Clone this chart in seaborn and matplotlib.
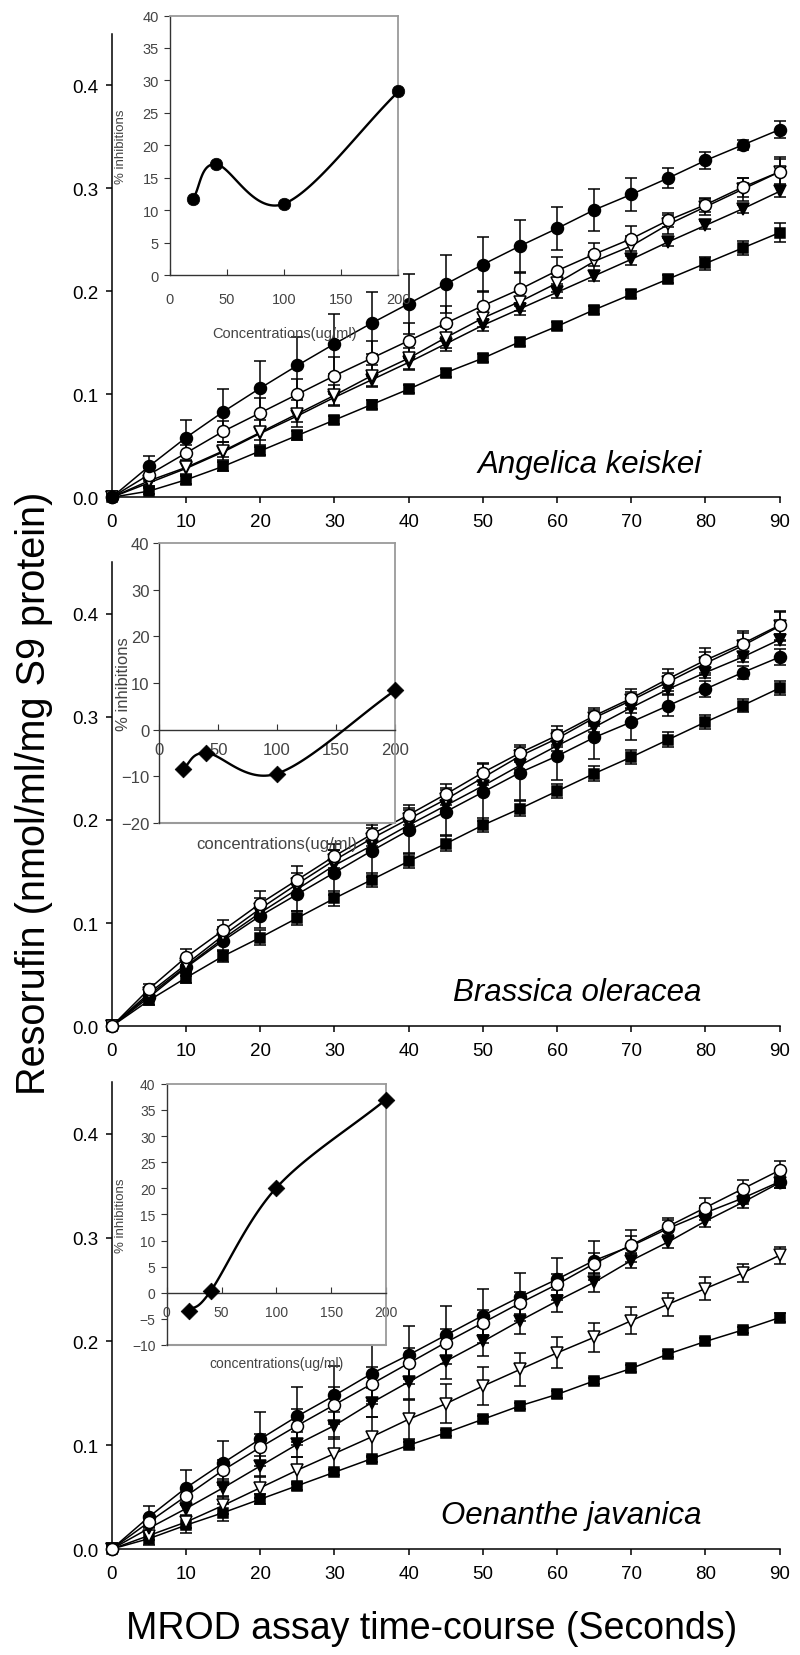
import numpy as np
import matplotlib
matplotlib.use("Agg")
import matplotlib.pyplot as plt
from matplotlib.ticker import FormatStrFormatter
import seaborn as sns

sns.set_theme(style="ticks")
plt.rcParams['font.family'] = ['Liberation Sans', 'DejaVu Sans']

# ---------------- data ----------------
time_s = [0, 5, 10, 15, 20, 25, 30, 35, 40, 45, 50, 55, 60, 65, 70, 75, 80, 85, 90]
main_xticks = [0, 10, 20, 30, 40, 50, 60, 70, 80, 90]
main_yticks = [0.0, 0.1, 0.2, 0.3, 0.4]
species = ["Angelica keiskei", "Brassica oleracea", "Oenanthe javanica"]

# Panel 1: Angelica keiskei
ak_fcirc = [0, .030, .058, .083, .106, .128, .149, .169, .188, .207, .226, .244, .261, .279, .294, .310, .327, .342, .357]
ak_fcirc_err = [0, .010, .017, .022, .026, .028, .029, .030, .029, .028, .027, .025, .021, .020, .016, .010, .008, .005, .008]
ak_ocirc = [0, .022, .043, .064, .082, .100, .118, .135, .152, .169, .186, .202, .220, .236, .251, .269, .284, .301, .316]
ak_ocirc_err = [0, .006, .008, .010, .014, .015, .018, .017, .017, .017, .014, .016, .013, .011, .012, .007, .007, .009, .014]
ak_otri = [0, .016, .029, .045, .063, .081, .099, .118, .135, .155, .174, .190, .208, .229, .244, .265, .282, .299, .316]
ak_otri_err = [0, .005, .007, .009, .012, .013, .010, .010, .010, .010, .009, .009, .009, .009, .010, .009, .008, .011, .012]
ak_ftri = [0, .014, .028, .044, .062, .079, .097, .114, .131, .149, .167, .183, .199, .215, .231, .248, .264, .280, .297]
ak_ftri_err = [0, .004, .005, .005, .006, .006, .007, .007, .007, .007, .006, .006, .006, .005, .005, .004, .004, .004, .005]
ak_sq = [0, .006, .017, .030, .045, .060, .075, .090, .105, .121, .135, .151, .166, .182, .197, .212, .227, .242, .257]
ak_sq_err = [0, .003, .004, .004, .004, .004, .004, .004, .004, .004, .004, .004, .004, .004, .004, .004, .006, .007, .009]

# Panel 2: Brassica oleracea
bo_fcirc = [0, .028, .057, .083, .107, .128, .149, .170, .190, .208, .227, .246, .262, .280, .295, .311, .327, .343, .358]
bo_fcirc_err = [0, .004, .008, .010, .012, .016, .022, .025, .022, .023, .028, .027, .023, .021, .017, .010, .008, .006, .008]
bo_ocirc = [0, .036, .067, .093, .119, .142, .165, .186, .205, .225, .246, .265, .282, .301, .318, .337, .355, .371, .389]
bo_ocirc_err = [0, .005, .008, .010, .012, .013, .012, .011, .010, .010, .008, .006, .009, .008, .009, .009, .012, .012, .014]
bo_otri = [0, .032, .060, .088, .114, .138, .161, .182, .201, .220, .241, .262, .279, .299, .316, .334, .352, .369, .388]
bo_otri_err = [0, .004, .006, .008, .010, .011, .010, .010, .009, .009, .007, .006, .008, .008, .008, .009, .011, .012, .014]
bo_ftri = [0, .030, .058, .085, .110, .133, .156, .175, .195, .214, .233, .253, .272, .290, .309, .327, .343, .358, .375]
bo_ftri_err = [0, .004, .005, .005, .005, .005, .005, .005, .005, .005, .005, .005, .005, .005, .005, .005, .005, .005, .005]
bo_sq = [0, .025, .047, .068, .086, .105, .124, .142, .160, .177, .195, .211, .228, .245, .261, .278, .295, .311, .328]
bo_sq_err = [0, .004, .005, .006, .007, .007, .007, .007, .007, .007, .007, .007, .007, .007, .007, .007, .007, .0065, .007]

# Panel 3: Oenanthe javanica
oj_fcirc = [0, .031, .059, .083, .106, .128, .148, .169, .187, .206, .225, .243, .260, .278, .292, .309, .324, .338, .354]
oj_fcirc_err = [0, .010, .017, .021, .026, .028, .028, .029, .028, .028, .026, .023, .020, .019, .015, .008, .007, .006, .006]
oj_ocirc = [0, .026, .051, .076, .098, .119, .139, .159, .179, .199, .218, .237, .255, .275, .293, .311, .329, .347, .365]
oj_ocirc_err = [0, .006, .008, .010, .013, .016, .017, .016, .015, .013, .012, .011, .010, .010, .009, .008, .009, .009, .009]
oj_otri = [0, .013, .026, .042, .059, .076, .092, .108, .125, .140, .157, .173, .189, .204, .220, .236, .251, .266, .283]
oj_otri_err = [0, .004, .006, .008, .010, .013, .016, .019, .019, .019, .018, .016, .015, .014, .013, .011, .011, .009, .008]
oj_ftri = [0, .020, .039, .059, .080, .101, .119, .141, .161, .181, .200, .220, .239, .257, .278, .296, .316, .334, .353]
oj_ftri_err = [0, .005, .006, .008, .010, .012, .013, .014, .016, .017, .014, .013, .011, .009, .007, .006, .006, .005, .005]
oj_sq = [0, .010, .023, .035, .048, .061, .074, .087, .100, .112, .125, .138, .149, .162, .174, .188, .200, .211, .223]
oj_sq_err = [0, .006, .008, .008, .005, .004, .003, .003, .003, .003, .003, .003, .003, .003, .003, .003, .003, .003, .004]

# Insets: % inhibition vs concentration
conc = [20, 40, 100, 200]
conc_ticks = [0, 50, 100, 150, 200]
ak_inhib = [11.7, 17.1, 11.0, 28.3]
bo_inhib = [-8.4, -5.0, -9.4, 8.4]
oj_inhib = [-3.5, 0.3, 20.1, 37.0]
ak_inhib_ticks = [0, 5, 10, 15, 20, 25, 30, 35, 40]
bo_inhib_ticks = [-20, -10, 0, 10, 20, 30, 40]
oj_inhib_ticks = [-10, -5, 0, 5, 10, 15, 20, 25, 30, 35, 40]

# ---------------- helpers ----------------
STYLE = {
    "sq":    dict(marker="s", mfc="black", ms=7.0),
    "otri":  dict(marker="v", mfc="white", ms=9.2),
    "ftri":  dict(marker="v", mfc="black", ms=9.2),
    "fcirc": dict(marker="o", mfc="black", ms=8.6),
    "ocirc": dict(marker="o", mfc="white", ms=8.6),
}


def smooth_curve(xs, ys, n=40):
    """Catmull-Rom (Excel-like smoothed line) through the given points."""
    P = np.column_stack([xs, ys]).astype(float)
    ext = np.vstack([2 * P[0] - P[1], P, 2 * P[-1] - P[-2]])
    t = np.linspace(0, 1, n)[:, None]
    h00 = 2 * t**3 - 3 * t**2 + 1
    h10 = t**3 - 2 * t**2 + t
    h01 = -2 * t**3 + 3 * t**2
    h11 = t**3 - t**2
    segs = []
    for i in range(1, len(ext) - 2):
        p0, p1, p2, p3 = ext[i - 1], ext[i], ext[i + 1], ext[i + 2]
        m1 = (p2 - p0) / 2
        m2 = (p3 - p1) / 2
        seg = h00 * p1 + h10 * m1 + h01 * p2 + h11 * m2
        segs.append(seg if i == 1 else seg[1:])
    out = np.vstack(segs)
    return out[:, 0], out[:, 1]


def draw_main(ax, series, name):
    for key, vals, err in series:
        ax.errorbar(time_s, vals, yerr=err, fmt="none", ecolor="black",
                    elinewidth=1.1, capsize=4.0, capthick=1.1, clip_on=False, zorder=2)
    for key, vals, err in series:
        st = STYLE[key]
        sns.lineplot(x=time_s, y=vals, ax=ax, color="black", linewidth=1.1,
                     marker=st["marker"], markersize=st["ms"], markerfacecolor=st["mfc"],
                     markeredgecolor="black", markeredgewidth=1.1, clip_on=False,
                     zorder=3, sort=False, estimator=None)
    ax.set_xlim(0, 90)
    ax.set_ylim(0, 0.45)
    ax.set_xticks(main_xticks)
    ax.set_yticks(main_yticks)
    ax.yaxis.set_major_formatter(FormatStrFormatter("%.1f"))
    sns.despine(ax=ax)
    for s in ("left", "bottom"):
        ax.spines[s].set_linewidth(1.1)
        ax.spines[s].set_color("black")
    ax.tick_params(axis="both", direction="out", length=4.5, width=1.1,
                   labelsize=13.5, colors="black")
    ax.tick_params(axis="x", pad=7)
    ax.tick_params(axis="y", pad=5)
    ax.set_xlabel("")
    ax.set_ylabel("")
    ax.text(79.5, 0.025, name, fontsize=22.5, style="italic", ha="right",
            va="baseline", color="black")


def draw_inset(fig, rect, yvals, yticks, ylim, marker, ms, xlabel, ylab_fs, xlab_fs,
               tick_fs, ylab_x, xlab_y, xpad, ypad, zero_axis):
    ia = fig.add_axes(rect)
    ia.set_facecolor("white")
    cx, cy = smooth_curve(conc, yvals)
    ia.plot(cx, cy, color="black", lw=1.7, zorder=3, clip_on=False)
    sns.scatterplot(x=conc, y=yvals, ax=ia, marker=marker, s=ms**2, color="black",
                    edgecolor="black", linewidth=0.5, zorder=4, clip_on=False)
    ia.set_xlim(0, 200)
    ia.set_ylim(*ylim)
    ia.set_xticks(conc_ticks)
    ia.set_yticks(yticks)
    frame = "#9a9a9a"
    for s in ("top", "right"):
        ia.spines[s].set_visible(True)
        ia.spines[s].set_color(frame)
        ia.spines[s].set_linewidth(1.3)
    ia.spines["left"].set_color("#333333")
    ia.spines["left"].set_linewidth(1.0)
    ia.spines["bottom"].set_color("#333333")
    ia.spines["bottom"].set_linewidth(1.0)
    if zero_axis:
        ia.spines["bottom"].set_position(("data", 0))
        ia.axhline(ylim[0], color=frame, lw=1.5, clip_on=False, zorder=1)
    ia.tick_params(axis="x", direction="in", length=4, width=0.8, colors="#333333",
                   labelcolor="#444444", labelsize=tick_fs, pad=xpad)
    ia.tick_params(axis="y", direction="out", length=4, width=0.8, colors="#333333",
                   labelcolor="#444444", labelsize=tick_fs, pad=ypad)
    ia.set_ylabel("% inhibitions", fontsize=ylab_fs, color="#444444")
    ia.set_xlabel(xlabel, fontsize=xlab_fs, color="#444444")
    ia.yaxis.set_label_coords(ylab_x, 0.5)
    ia.xaxis.set_label_coords(0.5, xlab_y)
    return ia


# ---------------- figure ----------------
fig = plt.figure(figsize=(8.0, 16.56), dpi=100)

left, width = 0.1398, 0.8348
ax1 = fig.add_axes([left, 0.6991, width, 0.2799])
ax2 = fig.add_axes([left, 0.3797, width, 0.2802])
ax3 = fig.add_axes([left, 0.0640, width, 0.2820])

draw_main(ax1, [("sq", ak_sq, ak_sq_err), ("ftri", ak_ftri, ak_ftri_err),
                ("otri", ak_otri, ak_otri_err), ("ocirc", ak_ocirc, ak_ocirc_err),
                ("fcirc", ak_fcirc, ak_fcirc_err)], species[0])
draw_main(ax2, [("sq", bo_sq, bo_sq_err), ("fcirc", bo_fcirc, bo_fcirc_err),
                ("ftri", bo_ftri, bo_ftri_err), ("otri", bo_otri, bo_otri_err),
                ("ocirc", bo_ocirc, bo_ocirc_err)], species[1])
draw_main(ax3, [("sq", oj_sq, oj_sq_err), ("otri", oj_otri, oj_otri_err),
                ("ftri", oj_ftri, oj_ftri_err), ("fcirc", oj_fcirc, oj_fcirc_err),
                ("ocirc", oj_ocirc, oj_ocirc_err)], species[2])

draw_inset(fig, [0.2125, 0.8333, 0.2856, 0.1567], ak_inhib, ak_inhib_ticks, (0, 40),
           "o", 9.0, "Concentrations(ug/ml)", 9.5, 10.5, 10.5, -0.19, -0.197, 12, 4, False)
draw_inset(fig, [0.1991, 0.5024, 0.2946, 0.1692], bo_inhib, bo_inhib_ticks, (-20, 40),
           "D", 8.5, "concentrations(ug/ml)", 12, 12, 12, -0.118, -0.046, 9, 3, True)
draw_inset(fig, [0.2084, 0.1872, 0.2741, 0.1577], oj_inhib, oj_inhib_ticks, (-10, 40),
           "D", 8.5, "concentrations(ug/ml)", 9.5, 10, 10, -0.18, -0.042, 9, 4, True)

fig.text(0.042, 0.521, "Resorufin (nmol/ml/mg S9 protein)", rotation=90,
         ha="center", va="center", fontsize=28.5, color="black")
fig.text(0.539, 0.0103, "MROD assay time-course (Seconds)", ha="center",
         va="baseline", fontsize=27, color="black")

fig.savefig("out.png", dpi=100, facecolor="white")
